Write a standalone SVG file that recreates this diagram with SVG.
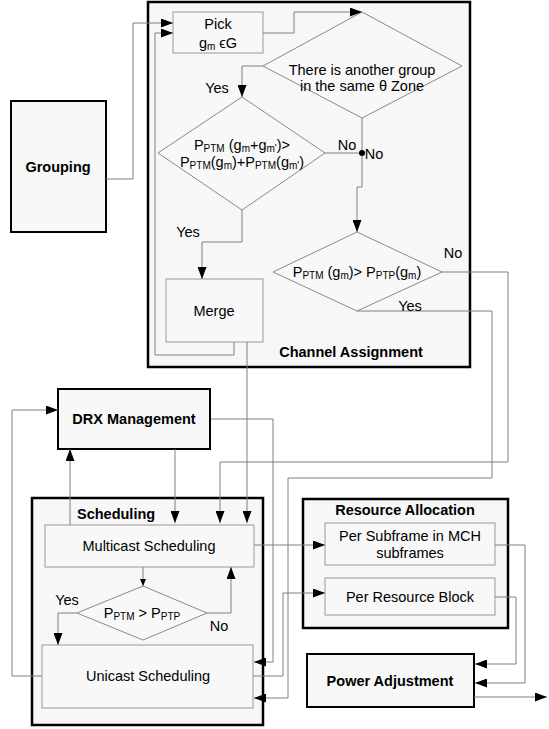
<svg xmlns="http://www.w3.org/2000/svg" width="549" height="729" viewBox="0 0 549 729">
<style>
text{font-family:"Liberation Sans",Arial,sans-serif;font-size:14.5px;fill:#000}
.b{font-weight:bold}
.s{font-size:10px}
.cont{fill:#f7f7f7;stroke:#000;stroke-width:2.5}
.box{fill:#f8f8f8;stroke:#000;stroke-width:2}
.in{fill:#f8f8f8;stroke:#9a9a9a;stroke-width:1}
.dia{fill:#f8f8f8;stroke:#8a8a8a;stroke-width:1}
.c path{fill:none;stroke:#808080;stroke-width:1}
</style>
<defs>
<marker id="ah" markerUnits="userSpaceOnUse" markerWidth="12" markerHeight="9" refX="12" refY="4.5" orient="auto"><path d="M0,0L12,4.5L0,9z" fill="#000"/></marker>
<marker id="as" markerUnits="userSpaceOnUse" markerWidth="7" markerHeight="6" refX="7" refY="3" orient="auto"><path d="M0,0L7,3L0,6z" fill="#000"/></marker>
</defs>
<rect width="549" height="729" fill="#fff"/>
<g id="channel-assignment">
<rect class="cont" x="148" y="2" width="322" height="365"/>
<text class="b" x="351" y="357" text-anchor="middle">Channel Assignment</text>
</g>
<g id="scheduling">
<rect class="cont" x="32" y="498" width="231" height="227"/>
<text class="b" x="77" y="519">Scheduling</text>
</g>
<g id="resource-allocation">
<rect class="cont" x="303" y="499" width="205" height="129"/>
<text class="b" x="405" y="515" text-anchor="middle">Resource Allocation</text>
</g>
<g id="grouping">
<rect class="box" x="11" y="101" width="95" height="131"/>
<text class="b" x="58" y="172" text-anchor="middle">Grouping</text>
</g>
<g id="drx">
<rect class="box" x="58" y="389" width="152" height="60"/>
<text class="b" x="134" y="424" text-anchor="middle">DRX Management</text>
</g>
<g id="power">
<rect class="box" x="307" y="654" width="167" height="53"/>
<text class="b" x="390" y="686" text-anchor="middle">Power Adjustment</text>
</g>
<g id="pick">
<rect class="in" x="173" y="12" width="90" height="41"/>
<text x="218" y="29" text-anchor="middle">Pick</text>
<text x="218" y="48" text-anchor="middle">g<tspan class="s" dy="2">m</tspan><tspan dy="-2"> ϵG</tspan></text>
</g>
<g id="d-zone">
<polygon class="dia" points="362,12 462,66 362,118 263,66"/>
<text x="362" y="75" text-anchor="middle">There is another group</text>
<text x="362" y="91" text-anchor="middle">in the same θ Zone</text>
</g>
<g id="d-merge">
<polygon class="dia" points="242,97 325,153 242,210 158,153"/>
<text x="242" y="150" text-anchor="middle">P<tspan class="s" dy="2">PTM</tspan><tspan dy="-2"> (g</tspan><tspan class="s" dy="2">m</tspan><tspan dy="-2">+g</tspan><tspan class="s" dy="2">m'</tspan><tspan dy="-2">)&gt;</tspan></text>
<text x="242" y="167" text-anchor="middle">P<tspan class="s" dy="2">PTM</tspan><tspan dy="-2">(g</tspan><tspan class="s" dy="2">m</tspan><tspan dy="-2">)+P</tspan><tspan class="s" dy="2">PTM</tspan><tspan dy="-2">(g</tspan><tspan class="s" dy="2">m'</tspan><tspan dy="-2">)</tspan></text>
</g>
<g id="merge">
<rect class="in" x="166" y="279" width="97" height="63"/>
<text x="214" y="316" text-anchor="middle">Merge</text>
</g>
<g id="d-ptm">
<polygon class="dia" points="357,232 442,272 357,311 273,272"/>
<text x="357" y="277" text-anchor="middle">P<tspan class="s" dy="2">PTM</tspan><tspan dy="-2"> (g</tspan><tspan class="s" dy="2">m</tspan><tspan dy="-2">)&gt; P</tspan><tspan class="s" dy="2">PTP</tspan><tspan dy="-2">(g</tspan><tspan class="s" dy="2">m</tspan><tspan dy="-2">)</tspan></text>
</g>
<g id="multicast">
<rect class="in" x="45" y="525" width="209" height="42"/>
<text x="149" y="551" text-anchor="middle">Multicast Scheduling</text>
</g>
<g id="d-sched">
<polygon class="dia" points="143,586 207,613 143,640 77,613"/>
<text x="142" y="618" text-anchor="middle">P<tspan class="s" dy="2">PTM</tspan><tspan dy="-2"> &gt; P</tspan><tspan class="s" dy="2">PTP</tspan></text>
</g>
<g id="unicast">
<rect class="in" x="42" y="645" width="211" height="63"/>
<text x="148" y="681" text-anchor="middle">Unicast Scheduling</text>
</g>
<g id="per-subframe">
<rect class="in" x="325" y="523" width="170" height="42"/>
<text x="410" y="541" text-anchor="middle">Per Subframe in MCH</text>
<text x="410" y="558" text-anchor="middle">subframes</text>
</g>
<g id="per-rb">
<rect class="in" x="325" y="578" width="170" height="37"/>
<text x="410" y="602" text-anchor="middle">Per Resource Block</text>
</g>
<g id="connectors" class="c">
<path d="M106,179H133V23H173" marker-end="url(#ah)"/>
<path d="M234,342V355H155V33H173" marker-end="url(#ah)"/>
<path d="M263,33H294V12H362" marker-end="url(#ah)"/>
<path d="M263,66H242V97" marker-end="url(#ah)"/>
<path d="M325,153H362"/>
<path d="M362,118V187H357V232" marker-end="url(#ah)"/>
<path d="M242,210V242H202V279" marker-end="url(#ah)"/>
<path d="M442,272H508V462H220V523" marker-end="url(#ah)"/>
<path d="M357,311H492V478H288V698H254" marker-end="url(#ah)"/>
<path d="M247,342V523" marker-end="url(#ah)"/>
<path d="M175,449V523" marker-end="url(#ah)"/>
<path d="M211,419H273V662H254" marker-end="url(#ah)"/>
<path d="M70,525V449" marker-end="url(#ah)"/>
<path d="M42,676H12V410H58" marker-end="url(#ah)"/>
<path d="M143,567V586" marker-end="url(#as)"/>
<path d="M77,613H58V645" marker-end="url(#ah)"/>
<path d="M207,613H231V567" marker-end="url(#ah)"/>
<path d="M254,545H325" marker-end="url(#ah)"/>
<path d="M253,676H283V593H325" marker-end="url(#ah)"/>
<path d="M495,545H525V683H475" marker-end="url(#ah)"/>
<path d="M495,597H516V664H475" marker-end="url(#ah)"/>
<path d="M474,697H547" marker-end="url(#ah)"/>
<circle cx="362" cy="153" r="3" fill="#000"/>
<text x="217" y="93" text-anchor="middle">Yes</text>
<text x="347" y="150" text-anchor="middle">No</text>
<text x="374" y="159" text-anchor="middle">No</text>
<text x="188" y="237" text-anchor="middle">Yes</text>
<text x="453" y="258" text-anchor="middle">No</text>
<text x="410" y="311" text-anchor="middle">Yes</text>
<text x="67" y="605" text-anchor="middle">Yes</text>
<text x="219" y="631" text-anchor="middle">No</text>
</g>
</svg>
